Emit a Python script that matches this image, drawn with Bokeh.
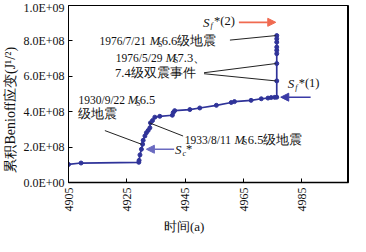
from bokeh.plotting import figure
from bokeh.models import Range1d, FixedTicker, Label, Arrow, NormalHead, Span
from bokeh.embed import file_html
from bokeh.resources import INLINE
import math

# ---- data ----
years = [1905.0, 1909.3, 1929.1, 1929.2, 1929.5, 1930.0, 1930.4, 1930.6, 1931.2, 1931.7,
         1932.3, 1932.9, 1933.1, 1933.8, 1934.6, 1936.3, 1940.6, 1940.9, 1941.4, 1946.6,
         1950.0, 1955.7, 1960.8, 1961.9, 1967.6, 1971.1, 1973.4, 1974.5, 1975.7, 1976.4,
         1976.4, 1976.4, 1976.4, 1976.4, 1976.4, 1976.4, 1976.4, 1976.4]
benioff_e8 = [1.02, 1.10, 1.14, 1.25, 1.56, 1.88, 2.16, 2.38, 2.63, 2.81,
              2.94, 3.09, 3.37, 3.50, 3.69, 3.74, 3.80, 3.95, 4.06, 4.12,
              4.21, 4.36, 4.52, 4.57, 4.64, 4.73, 4.77, 4.80, 4.81, 4.82,
              5.74, 6.72, 7.28, 7.47, 7.65, 7.93, 8.12, 8.30]
benioff = [v * 1e8 for v in benioff_e8]

x_ticks = [1905, 1925, 1945, 1965, 1985]
x_tick_labels = ["4905", "4925", "4945", "4965", "4985"]
y_ticks = [0, 200000000, 400000000, 600000000, 800000000, 1000000000]
y_tick_labels = ["0.0E+00", "2.0E+08", "4.0E+08", "6.0E+08", "8.0E+08", "1.0E+09"]

X_MIN, X_MAX = 1905, 2001
Y_MIN, Y_MAX = 0, 1e9

# frame geometry on the page (px)
FL, FR, FT, FB = 75, 356, 13, 192

def X(px):
    return X_MIN + (px - FL) / (FR - FL) * (X_MAX - X_MIN)

def Y(py):
    return Y_MIN + (FB - py) / (FB - FT) * (Y_MAX - Y_MIN)

def PXW(n):  # n pixels expressed in x data units
    return n / (FR - FL) * (X_MAX - X_MIN)

SERIF = "'Liberation Serif', 'Times New Roman', serif"
LINE_C = "#2f3399"
NB = "\u00a0"

p = figure(width=350, height=236, x_range=Range1d(X_MIN, X_MAX), y_range=Range1d(Y_MIN, Y_MAX),
           output_backend="svg", toolbar_location=None,
           min_border_left=FL - 8, min_border_right=358 - FR,
           min_border_top=FT - 8, min_border_bottom=244 - FB)
p.background_fill_color = "white"
p.border_fill_color = "white"
p.xgrid.visible = False
p.ygrid.visible = False
p.outline_line_color = "black"
p.outline_line_width = 1

for ax in (p.xaxis[0], p.yaxis[0]):
    ax.major_tick_in = 4
    ax.major_tick_out = 0
    ax.minor_tick_line_color = None
    ax.axis_line_color = "black"
    ax.major_tick_line_color = "black"
    ax.major_label_text_font = SERIF
    ax.major_label_text_font_size = "12px"
    ax.major_label_text_color = "#111"
    ax.axis_label_text_font = SERIF
    ax.axis_label_text_font_style = "normal"
    ax.axis_label_text_color = "#111"

p.xaxis.ticker = FixedTicker(ticks=x_ticks)
p.xaxis.major_label_overrides = dict(zip(x_ticks, x_tick_labels))
p.xaxis.major_label_orientation = math.pi / 2
p.xaxis.major_label_standoff = 5
p.xaxis.axis_line_width = 1.6
p.xaxis.axis_label = "时间(a)" + NB * 15
p.xaxis.axis_label_text_font_size = "13px"
p.xaxis.axis_label_standoff = 4

p.yaxis.ticker = FixedTicker(ticks=y_ticks)
p.yaxis.major_label_overrides = dict(zip(y_ticks, y_tick_labels))
p.yaxis.major_label_standoff = 4
p.yaxis.axis_label = "累积Benioff应变(J¹/²)" + NB * 9
p.yaxis.axis_label_text_font_size = "14px"
p.yaxis.axis_label_standoff = 2

p.add_layout(Span(location=X_MAX, dimension="height", line_color="black", line_width=3))

# ---- data curve ----
p.line(years, benioff, line_color=LINE_C, line_width=1.7)
p.scatter(years, benioff, size=4, marker="circle", fill_color=LINE_C, line_color=LINE_C)

# ---- text helper ----
def txt(px, py, s, size=12, style="normal", color="#111"):
    p.add_layout(Label(x=X(px), y=Y(py), text=s, text_font=SERIF, text_font_size=f"{size}px",
                       text_font_style=style, text_baseline="middle", text_align="left",
                       text_color=color))

def ms(px, py, pre, post, m_at, s_at, post_at):
    txt(px, py, pre, 11.5)
    txt(m_at, py, "M", 12.5, "italic")
    txt(s_at, py + 3, "S", 7.5)
    txt(post_at, py, post, 12.5)

ms(106, 49, "1976/7/21", "6.6级地震", 156.5, 165, 168.5)
ms(122.5, 66, "1976/5/29", "7.3、", 172.5, 181, 184.5)
txt(121.7, 81.5, "7.4级双震事件", 12.5)
ms(85, 109, "1930/9/22", "6.5", 134.5, 143, 146.5)
txt(85, 123, "级地震", 12.5)
ms(191.7, 149, "1933/8/11", "6.5级地震", 241.5, 250, 255)

def sstar(px, py, sub, rest):
    txt(px, py, "S", 13, "italic")
    txt(px + 7.5, py + 3.5, sub, 8, "italic")
    txt(px + 11, py - 1, rest, 12.5)

sstar(182, 159, "c", "*")
sstar(295, 92, "f", "*(1)")
sstar(210, 30, "f", "*(2)")

# ---- leader lines ----
def leader(px, py, i):
    p.add_layout(Arrow(end=None, x_start=X(px), y_start=Y(py),
                       x_end=years[i] - PXW(1), y_end=benioff[i],
                       line_color="#222", line_width=1))

leader(237, 48, 37)
leader(211, 81, 31)
leader(211, 82, 30)
leader(111.5, 139.5, 6)
leader(190, 145, 12)

# ---- arrows ----
BLUE = "#3a3aa6"
p.add_layout(Arrow(end=NormalHead(size=8, fill_color=BLUE, line_color=BLUE),
                   x_start=X(318), y_start=benioff[29],
                   x_end=years[29] + PXW(4), y_end=benioff[29],
                   line_color=BLUE, line_width=1.5))
LBLUE = "#6a6ac0"
p.add_layout(Arrow(end=NormalHead(size=8, fill_color=LBLUE, line_color=LBLUE),
                   x_start=X(181), y_start=benioff[5],
                   x_end=years[5] + PXW(5), y_end=benioff[5],
                   line_color=LBLUE, line_width=1.5))
RED = "#f06a50"
p.add_layout(Arrow(end=NormalHead(size=8, fill_color=RED, line_color=RED),
                   x_start=X(246), y_start=Y(30),
                   x_end=years[-1] - PXW(1), y_end=Y(30),
                   line_color=RED, line_width=1.8))

open("out.html", "w").write(file_html(p, INLINE))
